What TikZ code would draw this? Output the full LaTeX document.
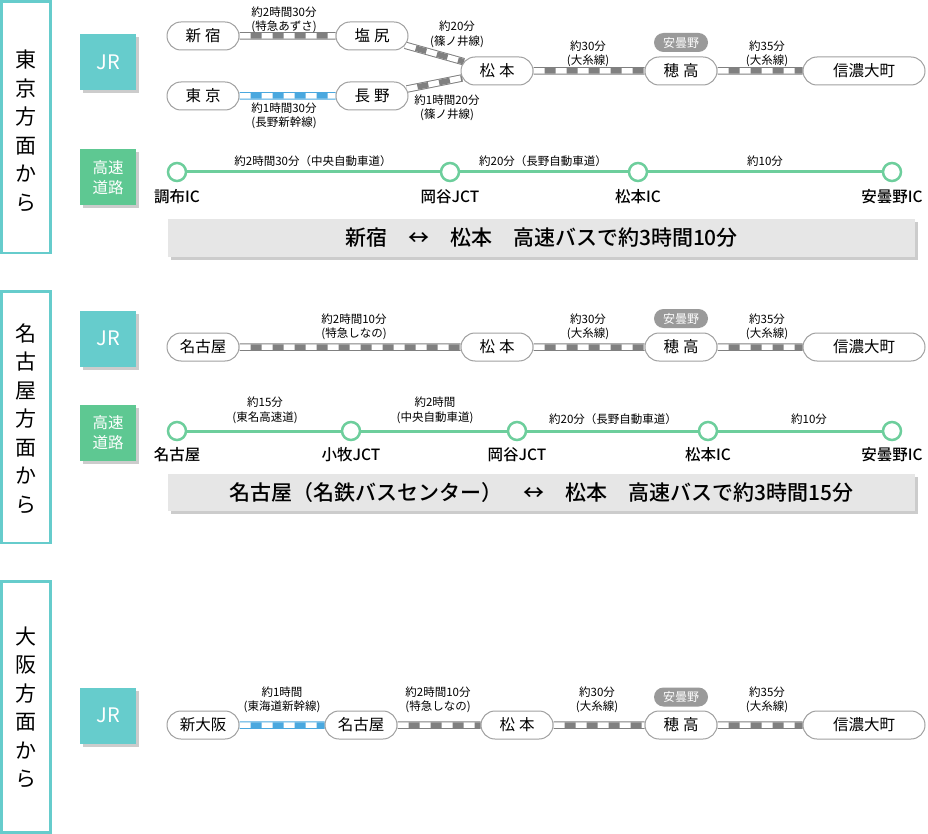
\documentclass[tikz,border=0pt]{standalone}
\usepackage{fontspec}
\setmainfont{Noto Sans CJK JP}[BoldFont={Noto Sans CJK JP Medium}]
\usetikzlibrary{shapes.misc,backgrounds,shadows}
\definecolor{tealc}{HTML}{66CCCC}
\definecolor{hwgreen}{HTML}{5EC892}
\definecolor{hwline}{HTML}{6DCE9C}
\definecolor{railgray}{HTML}{808080}
\definecolor{railblue}{HTML}{4AA8DF}
\definecolor{pillgray}{HTML}{A0A0A0}
\definecolor{taggray}{HTML}{9A9A9A}
\definecolor{bannergray}{HTML}{E6E6E6}
\newcommand\railseg[3]{%
  \draw[#3, line width=7.5pt] (#1) -- (#2);
  \draw[white, line width=5.5pt] (#1) -- (#2);
  \draw[#3, line width=5.5pt, dash pattern=on 11pt off 11pt, dash phase=11pt] (#1) -- (#2);}
\tikzset{
  pill/.style={rounded rectangle, draw=pillgray, line width=1pt, fill=white,
    minimum width=72pt, minimum height=28pt, inner sep=0pt,
    font=\fontsize{15.5}{16}\selectfont},
  widepill/.style={pill, minimum width=122pt},
  tagbox/.style={rounded rectangle, fill=taggray, text=white, minimum width=54pt,
    minimum height=19pt, inner sep=0pt, font=\fontsize{12}{13}\selectfont},
  lbl/.style={align=center, inner sep=0pt, font=\fontsize{11.5}{14.5}\selectfont},
  sidebox/.style={draw=tealc, line width=2.7pt},
  sidetxt/.style={align=center, inner sep=0pt, font=\fontsize{21}{28.5}\selectfont},
  jrbox/.style={fill=tealc, minimum width=56pt, minimum height=56pt, inner sep=0pt,
    text=white, font=\fontsize{20}{20}\selectfont,
    drop shadow={shadow xshift=3pt, shadow yshift=-3pt, fill=black!20, opacity=1}},
  hwbox/.style={jrbox, fill=hwgreen, align=center, font=\fontsize{15.5}{20}\selectfont},
  ic/.style={circle, draw=hwline, line width=2.5pt, fill=white, minimum size=18pt, inner sep=0pt},
  hwname/.style={inner sep=0pt, font=\fontsize{15.5}{16}\selectfont\bfseries},
  hwroad/.style={draw=hwline, line width=3pt},
  banner/.style={fill=bannergray, minimum width=747pt, minimum height=37pt, inner sep=0pt,
    font=\fontsize{21}{22}\selectfont\bfseries,
    drop shadow={shadow xshift=3pt, shadow yshift=-3pt, fill=black!20, opacity=1}}
}
\begin{document}
\begin{tikzpicture}[x=1pt,y=-1pt]
\useasboundingbox (0,0) rectangle (928,834);
% side boxes
\draw[sidebox] (1.3,1.3) rectangle (50.3,253);
\draw[sidebox] (1.3,291.3) rectangle (50.3,543);
\draw[sidebox] (1.3,581.3) rectangle (50.3,832.5);
\node[sidetxt] (s1) at (26,131) {東\\京\\方\\面\\か\\ら};
\node[sidetxt] (s2) at (26,418.5) {名\\古\\屋\\方\\面\\か\\ら};
\node[sidetxt] (s3) at (26,707.5) {大\\阪\\方\\面\\か\\ら};

% ===== Section 1 =====
\node[jrbox] (jr1) at (108,62) {JR};
\node[pill] (shinjuku) at (203,36) {新\hspace{4pt}宿};
\node[pill] (shiojiri) at (372,36) {塩\hspace{4pt}尻};
\node[pill] (tokyo) at (203,96) {東\hspace{4pt}京};
\node[pill] (nagano) at (372,96) {長\hspace{4pt}野};
\node[pill] (matsu1) at (497,71) {松\hspace{4pt}本};
\node[pill] (hotaka1) at (681,71) {穂\hspace{4pt}高};
\node[widepill] (omachi1) at (864,71) {信濃大町};
\node[tagbox] (tag1) at (681,42.5) {安曇野};
\node[lbl] (l11) at (284,20) {約2時間30分\\(特急あずさ)};
\node[lbl] (l12) at (457,34.5) {約20分\\(篠ノ井線)};
\node[lbl] (l13) at (284,116) {約1時間30分\\(長野新幹線)};
\node[lbl] (l14) at (447,108) {約1時間20分\\(篠ノ井線)};
\node[lbl] (l15) at (588,54) {約30分\\(大糸線)};
\node[lbl] (l16) at (767,54) {約35分\\(大糸線)};
\begin{pgfonlayer}{background}
\railseg{shinjuku}{shiojiri}{railgray}
\railseg{tokyo}{nagano}{railblue}
\railseg{shiojiri}{matsu1}{railgray}
\railseg{nagano}{matsu1}{railgray}
\railseg{matsu1}{hotaka1}{railgray}
\railseg{hotaka1}{omachi1}{railgray}
\end{pgfonlayer}

\node[hwbox] (hw1) at (108,177.5) {高速\\道路};
\node[ic] (chofu) at (177,172) {};
\node[ic] (okaya1) at (450,172) {};
\node[ic] (mic1) at (638,172) {};
\node[ic] (aic1) at (892,172) {};
\draw[hwroad] (chofu) -- (okaya1);
\draw[hwroad] (okaya1) -- (mic1);
\draw[hwroad] (mic1) -- (aic1);
\node[hwname] (n11) at (177,197) {調布IC};
\node[hwname] (n12) at (450,197) {岡谷JCT};
\node[hwname] (n13) at (638,197) {松本IC};
\node[hwname] (n14) at (892,197) {安曇野IC};
\node[lbl] (h11) at (313,161) {約2時間30分（中央自動車道）};
\node[lbl] (h12) at (543,161) {約20分（長野自動車道）};
\node[lbl] (h13) at (765,161) {約10分};
\node[banner] (b1) at (541.5,238) {新宿　↔　松本　高速バスで約3時間10分};

% ===== Section 2 =====
\node[jrbox] (jr2) at (108,338.5) {JR};
\node[pill] (nagoya2) at (203,347) {名古屋};
\node[pill] (matsu2) at (497,347) {松\hspace{4pt}本};
\node[pill] (hotaka2) at (681,347) {穂\hspace{4pt}高};
\node[widepill] (omachi2) at (864,347) {信濃大町};
\node[tagbox] (tag2) at (681,318.5) {安曇野};
\node[lbl] (l21) at (354,327) {約2時間10分\\(特急しなの)};
\node[lbl] (l22) at (588,327) {約30分\\(大糸線)};
\node[lbl] (l23) at (767,327) {約35分\\(大糸線)};
\begin{pgfonlayer}{background}
\railseg{nagoya2}{matsu2}{railgray}
\railseg{matsu2}{hotaka2}{railgray}
\railseg{hotaka2}{omachi2}{railgray}
\end{pgfonlayer}

\node[hwbox] (hw2) at (108,432.5) {高速\\道路};
\node[ic] (nic2) at (177,431) {};
\node[ic] (komaki) at (351,431) {};
\node[ic] (okaya2) at (517,431) {};
\node[ic] (mic2) at (708,431) {};
\node[ic] (aic2) at (892,431) {};
\draw[hwroad] (nic2) -- (komaki);
\draw[hwroad] (komaki) -- (okaya2);
\draw[hwroad] (okaya2) -- (mic2);
\draw[hwroad] (mic2) -- (aic2);
\node[hwname] (n21) at (177,455) {名古屋};
\node[hwname] (n22) at (351,455) {小牧JCT};
\node[hwname] (n23) at (517,455) {岡谷JCT};
\node[hwname] (n24) at (708,455) {松本IC};
\node[hwname] (n25) at (892,455) {安曇野IC};
\node[lbl] (h21) at (265,410.5) {約15分\\(東名高速道)};
\node[lbl] (h22) at (435,410.5) {約2時間\\(中央自動車道)};
\node[lbl] (h23) at (613,419) {約20分（長野自動車道）};
\node[lbl] (h24) at (809,419) {約10分};
\node[banner] (b2) at (541.5,492.5) {名古屋（名鉄バスセンター）　↔　松本　高速バスで約3時間15分};

% ===== Section 3 =====
\node[jrbox] (jr3) at (108,715.5) {JR};
\node[pill] (shinosaka) at (203,725) {新大阪};
\node[pill] (nagoya3) at (361,725) {名古屋};
\node[pill] (matsu3) at (517,725) {松\hspace{4pt}本};
\node[pill] (hotaka3) at (681,725) {穂\hspace{4pt}高};
\node[widepill] (omachi3) at (864,725) {信濃大町};
\node[tagbox] (tag3) at (681,697) {安曇野};
\node[lbl] (l31) at (282,700) {約1時間\\(東海道新幹線)};
\node[lbl] (l32) at (438,700) {約2時間10分\\(特急しなの)};
\node[lbl] (l33) at (597,700) {約30分\\(大糸線)};
\node[lbl] (l34) at (767,700) {約35分\\(大糸線)};
\begin{pgfonlayer}{background}
\railseg{shinosaka}{nagoya3}{railblue}
\railseg{nagoya3}{matsu3}{railgray}
\railseg{matsu3}{hotaka3}{railgray}
\railseg{hotaka3}{omachi3}{railgray}
\end{pgfonlayer}
\end{tikzpicture}
\end{document}
